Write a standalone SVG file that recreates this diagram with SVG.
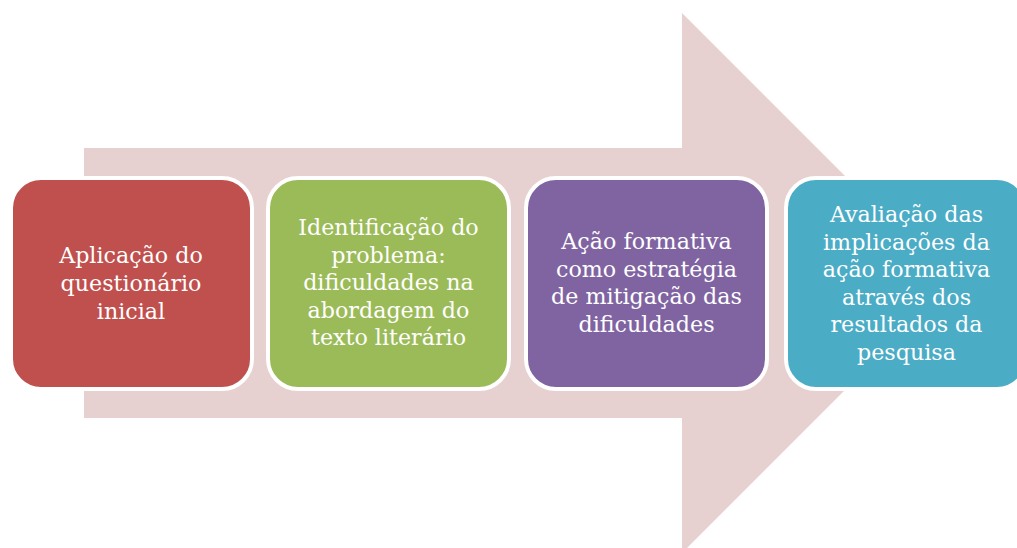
<svg xmlns="http://www.w3.org/2000/svg" width="1017" height="548" viewBox="0 0 1017 548">
<style>
.box{stroke:#fff;stroke-width:4}
.t{font-family:"DejaVu Serif","Liberation Serif",serif;font-size:22.2px;fill:#fff;text-anchor:middle}
</style>
<rect width="1017" height="548" fill="#fff"/>
<g id="arrow">
<polygon points="84,148 682,148 682,13 952,283 682,553 682,418 84,418" fill="#E7D0D0"/>
</g>
<g id="connectors"></g>
<g id="node1">
<rect class="box" x="11" y="178" width="241" height="211" rx="30" fill="#C0504D"/>
<text class="t"><tspan x="131" y="263">Aplicação do</tspan><tspan x="131" y="291">questionário</tspan><tspan x="131" y="319">inicial</tspan></text>
</g>
<g id="node2">
<rect class="box" x="268" y="178" width="241" height="211" rx="30" fill="#9BBB59"/>
<text class="t"><tspan x="388.5" y="235">Identificação do</tspan><tspan x="388.5" y="262.5">problema:</tspan><tspan x="388.5" y="290">dificuldades na</tspan><tspan x="388.5" y="317.5">abordagem do</tspan><tspan x="388.5" y="345">texto literário</tspan></text>
</g>
<g id="node3">
<rect class="box" x="526" y="178" width="241" height="211" rx="30" fill="#8064A2"/>
<text class="t"><tspan x="646.5" y="249">Ação formativa</tspan><tspan x="646.5" y="276.5">como estratégia</tspan><tspan x="646.5" y="304">de mitigação das</tspan><tspan x="646.5" y="331.5">dificuldades</tspan></text>
</g>
<g id="node4">
<rect class="box" x="786" y="178" width="241" height="211" rx="30" fill="#4BACC6"/>
<text class="t"><tspan x="906.5" y="222">Avaliação das</tspan><tspan x="906.5" y="249.5">implicações da</tspan><tspan x="906.5" y="277">ação formativa</tspan><tspan x="906.5" y="304.5">através dos</tspan><tspan x="906.5" y="332">resultados da</tspan><tspan x="906.5" y="359.5">pesquisa</tspan></text>
</g>
</svg>
